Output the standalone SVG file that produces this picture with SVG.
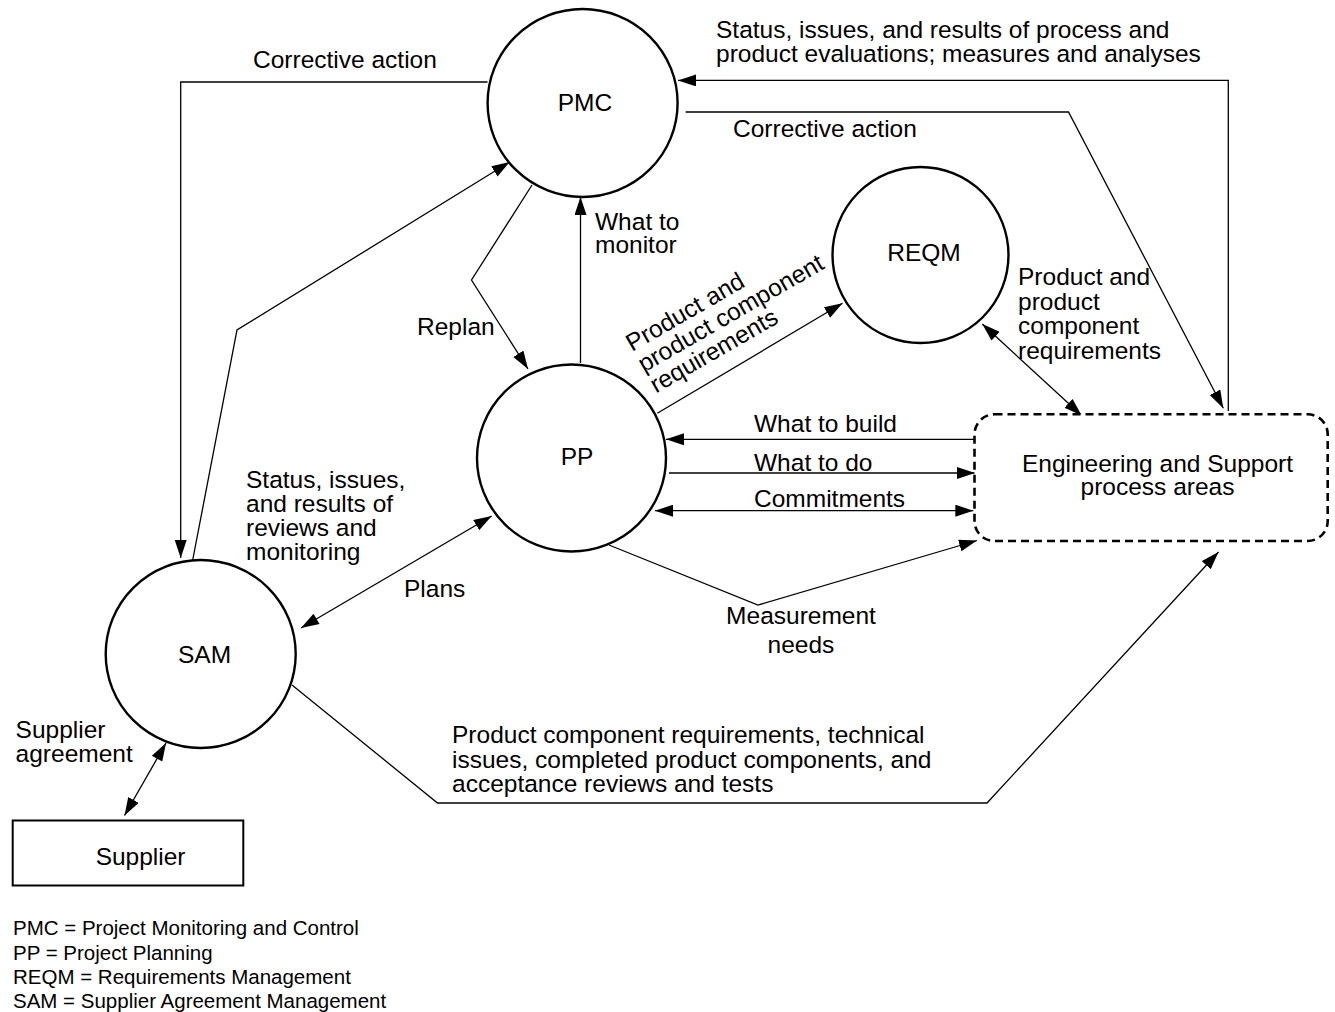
<svg xmlns="http://www.w3.org/2000/svg" width="1335" height="1012" viewBox="0 0 1335 1012">
<style>
text { font-family: "Liberation Sans", Arial, sans-serif; font-size: 24.5px; fill: #000; }
.fn { font-size: 20.5px; }
.mid { text-anchor: middle; }
.node { fill: #fff; stroke: #000; stroke-width: 2.4; }
.dash { fill: #fff; stroke: #000; stroke-width: 2.6; stroke-dasharray: 8 5; }
.c { fill: none; stroke: #000; stroke-width: 1.3; }
.a { marker-end: url(#ah); }
.b { marker-start: url(#ahs); marker-end: url(#ah); }
</style>
<defs>
<marker id="ah" markerUnits="userSpaceOnUse" markerWidth="20" markerHeight="14" refX="18" refY="6" orient="auto">
<path d="M0,0 L18,6 L0,12 z" fill="#000"/>
</marker>
<marker id="ahs" markerUnits="userSpaceOnUse" markerWidth="20" markerHeight="14" refX="0" refY="6" orient="auto">
<path d="M18,0 L0,6 L18,12 z" fill="#000"/>
</marker>
</defs>
<rect width="1335" height="1012" fill="#fff"/>

<g id="connectors">
<polyline class="c a" points="487.5,82 180.7,82 180.7,558"/>
<polyline class="c a" points="1228.3,411 1228.3,80.4 678,80.4"/>
<polyline class="c a" points="685.6,112 1068.5,112 1223.3,408.3"/>
<polyline class="c a" points="192.7,560 237,330 509.7,162"/>
<polyline class="c a" points="532,185 471.5,280 528,369"/>
<line class="c a" x1="580.5" y1="363" x2="580.5" y2="197"/>
<line class="c a" x1="657.3" y1="413.3" x2="842.5" y2="303.3"/>
<line class="c b" x1="982.3" y1="324" x2="1081.7" y2="415.5"/>
<line class="c a" x1="974.3" y1="439.3" x2="666" y2="439.3"/>
<line class="c a" x1="669" y1="473" x2="975" y2="473"/>
<line class="c b" x1="655" y1="510.7" x2="973.3" y2="510.7"/>
<polyline class="c a" points="609,545 758,605 977,540.5"/>
<line class="c b" x1="301" y1="628" x2="491.7" y2="516"/>
<polyline class="c a" points="292,685 437.5,803 987,803 1218.5,552"/>
<line class="c b" x1="166" y1="743" x2="124.5" y2="815.5"/>
</g>

<g id="node-pmc">
<ellipse class="node" cx="582.6" cy="103" rx="95" ry="94"/>
<text class="mid" x="585" y="111">PMC</text>
</g>
<g id="node-reqm">
<ellipse class="node" cx="920.5" cy="255" rx="88" ry="88"/>
<text class="mid" x="924" y="261">REQM</text>
</g>
<g id="node-pp">
<ellipse class="node" cx="571.5" cy="458" rx="94.5" ry="93.5"/>
<text class="mid" x="577" y="465">PP</text>
</g>
<g id="node-sam">
<ellipse class="node" cx="200.7" cy="654" rx="95" ry="94"/>
<text class="mid" x="204.5" y="663">SAM</text>
</g>
<g id="node-eng">
<rect class="dash" x="974.5" y="414.3" width="353.2" height="126.7" rx="20" ry="20"/>
<text class="mid" x="1157.5" y="472">Engineering and Support</text>
<text class="mid" x="1157.5" y="495">process areas</text>
</g>
<g id="node-supplier">
<rect x="12.7" y="820.5" width="230.6" height="65" fill="#fff" stroke="#000" stroke-width="2"/>
<text class="mid" x="140.6" y="865">Supplier</text>
</g>

<g id="labels">
<text x="253" y="68">Corrective action</text>
<text x="716" y="37.5">Status, issues, and results of process and</text>
<text x="716" y="61.5">product evaluations; measures and analyses</text>
<text x="733" y="137">Corrective action</text>
<text x="595" y="230">What to</text>
<text x="595" y="253">monitor</text>
<text x="1018" y="285">Product and</text>
<text x="1018" y="309.5">product</text>
<text x="1018" y="334">component</text>
<text x="1018" y="358.5">requirements</text>
<text transform="translate(632,352) rotate(-30)"><tspan x="0" y="0">Product and</tspan><tspan x="0" y="24">product component</tspan><tspan x="0" y="48">requirements</tspan></text>
<text x="417" y="335">Replan</text>
<text x="754" y="432">What to build</text>
<text x="754" y="471">What to do</text>
<text x="754" y="507">Commitments</text>
<text x="246" y="488">Status, issues,</text>
<text x="246" y="512">and results of</text>
<text x="246" y="536">reviews and</text>
<text x="246" y="560">monitoring</text>
<text x="404" y="597">Plans</text>
<text class="mid" x="801" y="624">Measurement</text>
<text class="mid" x="801" y="653">needs</text>
<text x="15.6" y="738">Supplier</text>
<text x="15.6" y="762">agreement</text>
<text x="452" y="743">Product component requirements, technical</text>
<text x="452" y="767.5">issues, completed product components, and</text>
<text x="452" y="791.5">acceptance reviews and tests</text>
</g>

<g id="legend">
<text class="fn" x="13" y="935">PMC = Project Monitoring and Control</text>
<text class="fn" x="13" y="960">PP = Project Planning</text>
<text class="fn" x="13" y="984">REQM = Requirements Management</text>
<text class="fn" x="13" y="1008">SAM = Supplier Agreement Management</text>
</g>
</svg>
